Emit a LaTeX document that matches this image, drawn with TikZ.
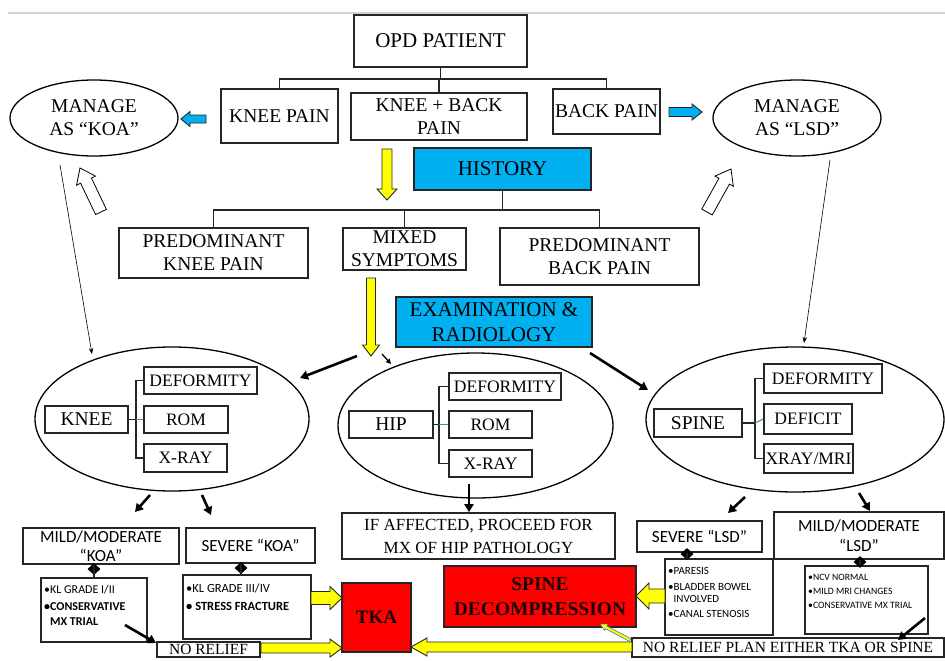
\documentclass[tikz,border=0pt]{standalone}
\usepackage{fontspec}
\setmainfont{Liberation Serif}
\newfontfamily\calfont{Carlito}
\usetikzlibrary{shapes.geometric,arrows.meta}
\definecolor{skyb}{HTML}{00B0F0}
\definecolor{yel}{HTML}{FFFF00}
\definecolor{redf}{HTML}{FF0000}
\definecolor{lncol}{HTML}{262626}
\definecolor{tealln}{RGB}{70,140,170}
\definecolor{darktxt}{HTML}{1A0505}
\definecolor{blueln}{HTML}{4472C4}
\tikzset{
  bx/.style={draw=lncol, line width=1.6pt, inner sep=0pt, align=center, fill=white},
  ell/.style={draw=black, line width=1.3pt, ellipse, inner sep=0pt, align=center},
  fA/.style={font=\fontsize{21}{25}\selectfont},
  fB/.style={font=\fontsize{19.5}{23}\selectfont},
  fC/.style={font=\fontsize{17.5}{21}\selectfont},
  fD/.style={font=\fontsize{17}{23}\selectfont},
  fE/.style={font=\fontsize{15.5}{17}\selectfont},
  sfA/.style={font=\calfont\fontsize{17}{18.5}\selectfont},
  redbox/.style={bx, fill=redf, text=darktxt},
  conn/.style={draw=lncol, line width=1.6pt},
  dia/.style={diamond, fill=black, draw=none, minimum width=13pt, minimum height=12pt, inner sep=0pt},
  blk/.style={line width=2.6pt, -{Triangle[length=8pt,width=9pt]}},
  blksm/.style={line width=1.3pt, -{Triangle[length=5pt,width=5pt]}},
  thn/.style={line width=0.6pt, -{Stealth[length=6pt,width=4.5pt]}},
  yarr/.style={fill=yel, draw=lncol, line width=0.9pt},
  barr/.style={fill=skyb, draw=lncol, line width=0.9pt},
  harr/.style={fill=white, draw=black, line width=0.8pt},
  tarr/.style={fill=yel, draw=blueln, line width=0.6pt},
  bul/.style={anchor=north west, align=left, inner sep=0pt},
}
% block arrow: style, from, to, half shaft, half head, head length
\newcommand\blockarr[6]{%
  \pgfpointanchor{#2}{center}\pgfgetlastxy{\bXa}{\bYa}%
  \pgfpointanchor{#3}{center}\pgfgetlastxy{\bXb}{\bYb}%
  \pgfmathsetmacro\bA{atan2(\bYb-\bYa,\bXb-\bXa)}%
  \pgfmathsetmacro\bL{veclen(\bXb-\bXa,\bYb-\bYa)}%
  \draw[#1, shift={(#2)}, rotate=\bA] (0,-#4) -- (\bL-#6,-#4) -- (\bL-#6,-#5) -- (\bL,0)
     -- (\bL-#6,#5) -- (\bL-#6,#4) -- (0,#4) -- cycle;
}
\begin{document}
\begin{tikzpicture}[x=1pt,y=-1pt]
\useasboundingbox (0,0) rectangle (945,661);
\fill[white] (0,0) rectangle (945,661);
\draw[black!18, line width=2pt] (8,13) -- (945,13);

% ---------- top level ----------
\node[bx,fA,minimum width=173pt,minimum height=52pt] (opd) at (440.5,41) {OPD PATIENT};
\node[bx,fB,minimum width=117pt,minimum height=54pt] (kneepain) at (279.5,116) {KNEE PAIN};
\node[bx,fB,minimum width=176pt,minimum height=47pt] (kneeback) at (439,116.5) {KNEE + BACK\\PAIN};
\node[bx,fB,minimum width=107pt,minimum height=45pt] (backpain) at (606.5,111.5) {BACK PAIN};
\node[ell,fB,minimum width=168pt,minimum height=76pt] (koa) at (94,118) {MANAGE\\AS “KOA”};
\node[ell,fB,minimum width=168pt,minimum height=76pt] (lsd) at (797,118) {MANAGE\\AS “LSD”};

\draw[conn] (opd.south) -- ++(0,11) coordinate (opdbar);
\draw[conn] (kneepain.north) |- (opdbar) -| (backpain.north);
\draw[conn] (kneeback.north) -- (kneeback.north |- opdbar);

\node[bx,fA,fill=skyb,minimum width=177pt,minimum height=42pt] (history) at (502.5,169) {HISTORY};
\node[bx,fB,minimum width=189pt,minimum height=50pt] (pknee) at (213.5,253) {PREDOMINANT\\KNEE PAIN};
\node[bx,fB,minimum width=123pt,minimum height=42pt] (mixed) at (404.5,249) {MIXED\\SYMPTOMS};
\node[bx,fB,minimum width=199pt,minimum height=57pt] (pback) at (599.5,256.5) {PREDOMINANT\\BACK PAIN};

\draw[conn] (history.south) -- ++(0,19) coordinate (hisbar);
\draw[conn] (pknee.north) |- (hisbar) -| (pback.north);
\draw[conn] (mixed.north) -- (mixed.north |- hisbar);

\node[bx,fA,fill=skyb,minimum width=196pt,minimum height=50pt] (exam) at (494,322) {EXAMINATION \&\\RADIOLOGY};

% ---------- ellipses ----------
\node[ell,minimum width=274pt,minimum height=144pt] (kneeell) at (172,419) {};
\node[ell,minimum width=275pt,minimum height=145pt] (hipell) at (475.5,425.5) {};
\node[ell,minimum width=298pt,minimum height=145pt] (spell) at (795,419.5) {};

\node[bx,fB,minimum width=83pt,minimum height=27pt] (kneebox) at (86.5,419.5) {KNEE};
\node[bx,fC,minimum width=113pt,minimum height=27pt] (kdef) at (200.5,380.5) {DEFORMITY};
\node[bx,fC,minimum width=84pt,minimum height=27pt] (krom) at (186,419.5) {ROM};
\node[bx,fC,minimum width=83pt,minimum height=28pt] (kxray) at (185.5,458) {X-RAY};
\draw[conn] (kdef.west) -- ++(-7,0) coordinate (kv) |- (kxray.west);
\draw[conn] (kneebox.east) -- (kneebox.east -| kv);
\draw[tealln, line width=1pt] (kneebox.east -| kv) -- (krom.west);

\node[bx,fB,minimum width=84pt,minimum height=27pt] (hipbox) at (391,424.5) {HIP};
\node[bx,fC,minimum width=112pt,minimum height=27pt] (hdef) at (505,386.5) {DEFORMITY};
\node[bx,fC,minimum width=83pt,minimum height=27pt] (hrom) at (490.5,424.5) {ROM};
\node[bx,fC,minimum width=83pt,minimum height=27pt] (hxray) at (490.5,463.5) {X-RAY};
\draw[conn] (hdef.west) -- ++(-9,0) coordinate (hv) |- (hxray.west);
\draw[conn] (hipbox.east) -- (hipbox.east -| hv);
\draw[tealln, line width=1pt] (hipbox.east -| hv) -- (hrom.west);

\node[bx,fB,minimum width=88pt,minimum height=28pt] (spbox) at (698,423) {SPINE};
\node[bx,fC,minimum width=118pt,minimum height=29pt] (sdef) at (823,378.5) {DEFORMITY};
\node[bx,fC,minimum width=88pt,minimum height=30pt] (sdefic) at (808,419) {DEFICIT};
\node[bx,fC,minimum width=89pt,minimum height=29pt] (sxray) at (808.5,458.5) {XRAY/MRI};
\draw[conn] (sdef.west) -- ++(-8,0) coordinate (sv) |- (sxray.west);
\draw[conn] (spbox.east) -- (spbox.east -| sv);
\draw[tealln, line width=1pt] (spbox.east -| sv) -- (sdefic.west);

% ---------- bottom ----------
\node[bx,sfA,minimum width=156pt,minimum height=36pt] (mmkoa) at (101,546) {MILD/MODERATE\\“KOA”};
\node[bx,sfA,minimum width=129pt,minimum height=35pt] (sevkoa) at (250.5,545.5) {SEVERE “KOA”};
\node[bx,minimum width=106pt,minimum height=64pt] (kl12) at (94,610) {};
\node[bx,minimum width=128pt,minimum height=64pt] (kl34) at (247,607) {};
\node[bx,fE,minimum width=103pt,minimum height=15pt] (norel) at (208.5,649.5) {NO RELIEF};
\node[redbox,minimum width=69pt,minimum height=69pt,font=\bfseries\fontsize{19}{21}\selectfont] (tka) at (376.5,617.5) {TKA};
\node[bx,fD,minimum width=273pt,minimum height=46pt] (ifaff) at (478.5,536) {IF AFFECTED, PROCEED FOR\\MX OF HIP PATHOLOGY};
\node[redbox,minimum width=192pt,minimum height=61pt,font=\bfseries\fontsize{19.5}{25}\selectfont] (spdec) at (540,596.5) {SPINE\\DECOMPRESSION};
\node[bx,sfA,minimum width=125pt,minimum height=31pt] (sevlsd) at (699.5,536.5) {SEVERE “LSD”};
\node[bx,sfA,font=\calfont\fontsize{17}{20}\selectfont,minimum width=170pt,minimum height=47pt] (mmlsd) at (859,535.5) {MILD/MODERATE\\“LSD”};
\node[bx,minimum width=108pt,minimum height=76pt] (paresis) at (719,597) {};
\node[bx,minimum width=123pt,minimum height=68pt] (ncv) at (866.5,600) {};
\node[bx,fE,minimum width=312pt,minimum height=19pt] (norelplan) at (788,647.5) {NO RELIEF PLAN EITHER TKA OR SPINE};

\node[bul,font=\calfont\fontsize{12}{17}\selectfont] (kl12t) at (44,585) {•KL GRADE I/II\\\textbf{•CONSERVATIVE}\\[-2pt]\textbf{\hphantom{•}MX TRIAL}};
\node[bul,font=\calfont\fontsize{12.5}{18}\selectfont] (kl34t) at (186,584) {•KL GRADE III/IV\\\textbf{• STRESS FRACTURE}};
\node[bul,font=\calfont\fontsize{11}{14}\selectfont] (parest) at (668,567) {•PARESIS\\[2pt]•BLADDER BOWEL\\[-2pt]\hphantom{•}INVOLVED\\[1pt]•CANAL STENOSIS};
\node[bul,font=\calfont\fontsize{9.7}{14}\selectfont] (ncvt) at (808,573.5) {•NCV NORMAL\\•MILD MRI CHANGES\\•CONSERVATIVE MX TRIAL};

\node[dia] (d1) at (94,569) {};
\node[dia] (d2) at (241,568) {};
\node[dia] (d3) at (687,554) {};
\node[dia] (d4) at (860,562) {};
\draw[conn] (mmkoa.south -| d1) -- (kl12.north -| d1);
\draw[conn] (sevkoa.south -| d2) -- (kl34.north -| d2);
\draw[conn] (sevlsd.south -| d3) -- (paresis.north -| d3);
\draw[conn] (mmlsd.south -| d4) -- (ncv.north -| d4);

% ---------- arrow coordinates ----------
\coordinate (a1s) at (357,356); \coordinate (a1e) at (300,378);
\coordinate (a2s) at (382,354); \coordinate (a2e) at (391,364);
\coordinate (a3s) at (590,353); \coordinate (a3e) at (648,390);
\coordinate (a4s) at (469,484);
\coordinate (a5s) at (150,495); \coordinate (a5e) at (135,512);
\coordinate (a6s) at (202,495); \coordinate (a6e) at (211,515);
\coordinate (a7s) at (745,497); \coordinate (a7e) at (728,513);
\coordinate (a8s) at (859,493); \coordinate (a8e) at (870,511);
\coordinate (a9s) at (125,625); \coordinate (a9e) at (156,643);
\coordinate (a10s) at (925,618); \coordinate (a10e) at (898,640);
\coordinate (t1s) at (60,165); \coordinate (t1e) at (92,354);
\coordinate (t2s) at (830,160); \coordinate (t2e) at (804,343);

\draw[blk] (a1s) -- (a1e);
\draw[blksm] (a2s) -- (a2e);
\draw[blk] (a3s) -- (a3e);
\draw[blk] (a4s) -- (a4s |- ifaff.north);
\draw[blk] (a5s) -- (a5e);
\draw[blk] (a6s) -- (a6e);
\draw[blk] (a7s) -- (a7e);
\draw[blk] (a8s) -- (a8e);
\draw[blk] (a9s) -- (a9e);
\draw[blk] (a10s) -- (a10e);
\draw[thn] (t1s) -- (t1e);
\draw[thn] (t2s) -- (t2e);

% ---------- block arrows ----------
\coordinate (b1s) at (206,119); \coordinate (b1e) at (181,119);
\coordinate (b2s) at (669,112); \coordinate (b2e) at (702,112);
\coordinate (y1s) at (387,149); \coordinate (y1e) at (387,200);
\coordinate (y2s) at (371,278); \coordinate (y2e) at (371,356);
\coordinate (y3s) at (311,598); \coordinate (y3e) at (342,598);
\coordinate (y4s) at (261,648); \coordinate (y4e) at (342,648);
\coordinate (y5s) at (632,647); \coordinate (y5e) at (411,647);
\coordinate (y6s) at (665,596); \coordinate (y6e) at (636,596);
\coordinate (y7s) at (630,640); \coordinate (y7e) at (600,624);
\coordinate (h1s) at (101,212); \coordinate (h1e) at (80,168);
\coordinate (h2s) at (707,212); \coordinate (h2e) at (731,169);

\blockarr{barr}{b1s}{b1e}{4}{7.5}{9}
\blockarr{barr}{b2s}{b2e}{4.5}{8}{10}
\blockarr{yarr}{y1s}{y1e}{5}{10}{11}
\blockarr{yarr}{y2s}{y2e}{4.5}{8.5}{11}
\blockarr{yarr}{y3s}{y3e}{6.5}{11.5}{12}
\blockarr{yarr}{y4s}{y4e}{5}{9}{12}
\blockarr{yarr}{y5s}{y5e}{5}{9}{16}
\blockarr{yarr}{y6s}{y6e}{7}{13}{13}
\blockarr{tarr}{y7s}{y7e}{1.5}{3.5}{7}
\blockarr{harr}{h1s}{h1e}{6}{10.5}{14}
\blockarr{harr}{h2s}{h2e}{6}{10.5}{14}
\end{tikzpicture}
\end{document}
